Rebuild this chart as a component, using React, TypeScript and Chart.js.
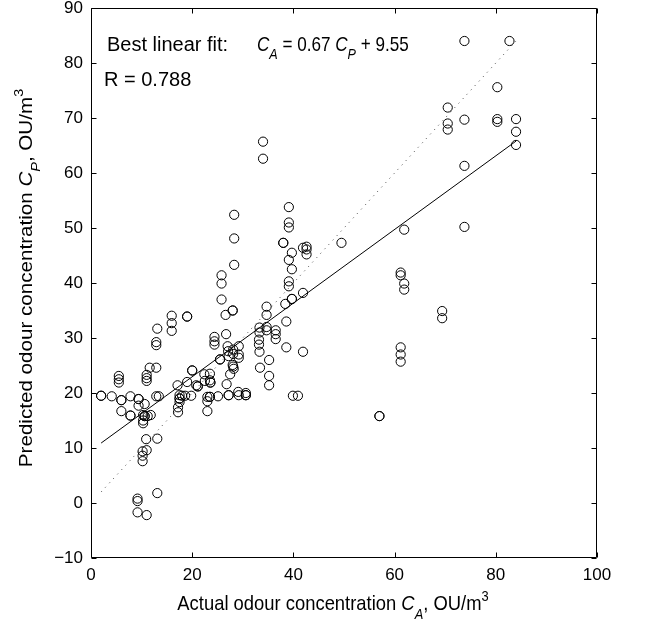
import React, { useEffect, useRef } from "react";
import { Chart, registerables } from "chart.js";

Chart.register(...registerables);

const FONT = '"Liberation Sans", Arial, Helvetica, sans-serif';

// Axis ticks
const xTickValues = [0, 20, 40, 60, 80, 100];
const yTickValues = [-10, 0, 10, 20, 30, 40, 50, 60, 70, 80, 90];

// Actual odour concentration C_A (x) and predicted C_P (y)
const actual = [
  73.8, 82.7, 80.3, 70.5, 70.5, 70.5, 73.8, 80.3, 80.3, 84.0, 84.0, 84.0, 73.8, 61.9, 73.8,
  49.5, 61.2, 61.2, 61.9, 61.9, 69.4, 69.4, 61.2, 61.2, 61.2, 57.0, 57.0,
  34.0, 34.0, 39.1, 39.1, 39.1, 28.3, 28.3, 28.3, 38.0, 38.0, 39.7, 42.6, 42.6, 42.6, 41.9,
  39.1, 39.7, 25.8, 25.8, 25.8, 39.1, 39.1, 39.7, 39.7, 41.9, 34.7, 34.7, 38.4, 26.6, 28.0,
  28.0, 15.95, 15.95, 15.95, 19.0, 19.0, 13.1, 12.9, 12.9, 24.4, 24.4, 24.4, 26.7, 33.3, 33.3,
  34.7, 34.7, 36.5, 36.5, 36.5, 33.2, 33.2, 33.3, 35.2, 33.4, 35.2, 35.2, 38.6, 38.6, 41.9,
  39.9, 40.9, 29.2, 29.2, 29.2, 28.1, 28.1, 27.0, 27.1, 27.2, 25.5, 25.5, 28.0, 28.1, 28.2,
  27.5, 26.8, 20.0, 20.0, 17.1, 19.0, 20.8, 21.1, 21.1, 22.4, 22.5, 23.5, 23.6, 23.6, 23.5,
  23.0, 23.0, 23.0, 23.5, 23.5, 25.1, 27.2, 27.2, 29.1, 29.2, 30.6, 30.6, 30.6, 17.5, 17.5,
  17.5, 17.5, 17.2, 17.2, 18.0, 18.6, 19.8, 2.0, 2.0, 4.1, 6.0, 6.0, 6.0, 7.8, 7.8, 7.8, 9.4,
  9.4, 9.4, 10.6, 10.3, 10.6, 10.6, 11.2, 11.8, 10.3, 10.3, 12.9, 13.4, 5.5, 5.5, 5.5, 11.0,
  11.0, 11.0, 11.6, 12.9, 10.9, 13.1, 10.2, 11.0, 10.2, 10.2, 9.2, 9.2, 9.2, 11.0, 13.1,
];
const predicted = [
  84.0, 84.0, 75.6, 71.9, 69.0, 67.9, 69.7, 69.8, 69.3, 69.8, 67.5, 65.1, 61.3, 49.7, 50.2,
  47.3, 41.9, 41.4, 39.9, 38.8, 34.9, 33.6, 28.3, 27.0, 25.7, 15.8, 15.8,
  65.7, 62.6, 53.8, 51.0, 50.1, 52.4, 48.1, 43.3, 47.3, 47.3, 45.5, 46.6, 46.1, 45.2, 46.4,
  44.2, 42.5, 41.4, 39.9, 37.0, 40.3, 39.4, 37.1, 37.1, 38.2, 35.7, 34.2, 36.2, 34.2, 35.0,
  35.0, 34.05, 32.7, 31.3, 33.9, 33.9, 31.7, 29.25, 28.7, 30.2, 29.4, 28.8, 30.7, 31.9, 31.0,
  32.0, 31.4, 31.4, 30.7, 29.8, 29.7, 28.8, 27.5, 26.0, 24.6, 23.1, 21.4, 33.0, 28.3, 27.5,
  19.5, 19.5, 28.5, 27.0, 26.4, 27.9, 27.1, 28.5, 27.6, 26.7, 26.1, 26.1, 25.1, 24.8, 24.4,
  23.4, 21.6, 24.1, 24.1, 21.4, 22.0, 21.4, 21.2, 21.2, 23.4, 22.2, 22.3, 21.9, 21.9, 23.5,
  19.3, 18.5, 16.7, 19.3, 19.3, 19.4, 19.6, 19.6, 20.2, 19.6, 20.0, 19.6, 19.6, 19.6, 19.0,
  19.0, 18.35, 17.4, 16.5, 19.5, 19.5, 19.5, 19.5, 19.5, 19.4, 18.7, 18.7, 16.7, 19.4, 15.9,
  15.9, 18.9, 18.9, 17.7, 18.0, 16.0, 15.8, 15.8, 15.8, 16.0, 15.0, 14.5, 19.4, 19.4, 23.1,
  22.5, 21.9, 23.3, 22.7, 22.2, 24.6, 24.6, 11.6, 11.7, 9.4, 9.6, 8.6, 7.6, 0.8, 0.35, -1.7,
  -2.2, 1.8,
];

// Best linear fit line C_A = 0.67 C_P + 9.55, drawn between its end points
const fitX = [2, 84];
const fitY = [10.9, 65.8];
// Line of perfect agreement
const identX = [2, 84];
const identY = [2, 84];

const PLOT_LEFT = 91;
const PLOT_TOP = 8;
const PLOT_RIGHT_PAD = 53;
const PLOT_BOTTOM_SPACE = 70;

type Seg = { t: string; it?: boolean; sub?: boolean; sup?: boolean };

function segFont(s: Seg, size: number) {
  const sz = s.sub || s.sup ? Math.round(size * 0.72) : size;
  return `${s.it ? "italic " : ""}${sz}px ${FONT}`;
}

function drawRich(
  ctx: CanvasRenderingContext2D,
  segs: Seg[],
  x: number,
  y: number,
  align: "left" | "center",
  size: number,
  sx: number,
  sy: number
) {
  const widths = segs.map((s) => {
    ctx.font = segFont(s, size);
    return ctx.measureText(s.t).width * sx;
  });
  const total = widths.reduce((a, b) => a + b, 0);
  let cx = align === "center" ? x - total / 2 : x;
  ctx.textAlign = "left";
  ctx.textBaseline = "alphabetic";
  segs.forEach((s, i) => {
    ctx.font = segFont(s, size);
    const dy = (s.sub ? size * 0.42 : s.sup ? -size * 0.45 : 0) * sy;
    ctx.save();
    ctx.translate(cx, y + dy);
    ctx.scale(sx, sy);
    ctx.fillText(s.t, 0, 0);
    ctx.restore();
    cx += widths[i];
  });
}

const framePlugin = {
  id: "matlabFrame",
  afterDatasetsDraw(chart: any) {
    const { ctx, chartArea, scales } = chart;
    const { left, right, top, bottom } = chartArea;
    ctx.save();
    ctx.strokeStyle = "#000";
    ctx.lineWidth = 1;
    const L = Math.round(left) + 0.5;
    const R = Math.round(right) - 0.5;
    const T = Math.round(top) + 0.5;
    const B = Math.round(bottom) - 0.5;
    ctx.beginPath();
    ctx.rect(L, T, R - L, B - T);
    ctx.stroke();
    const tl = 5;
    ctx.beginPath();
    xTickValues.forEach((v) => {
      const px = Math.round(scales.x.getPixelForValue(v)) + 0.5;
      ctx.moveTo(px, B);
      ctx.lineTo(px, B - tl);
      ctx.moveTo(px, T);
      ctx.lineTo(px, T + tl);
    });
    yTickValues.forEach((v) => {
      const py = Math.round(scales.y.getPixelForValue(v)) + 0.5;
      ctx.moveTo(L, py);
      ctx.lineTo(L + tl, py);
      ctx.moveTo(R, py);
      ctx.lineTo(R - tl, py);
    });
    ctx.stroke();

    ctx.fillStyle = "#000";
    // Annotations inside the plot
    drawRich(ctx, [{ t: "Best linear fit:" }], 107, 51, "left", 20, 1, 1);
    drawRich(
      ctx,
      [
        { t: "C", it: true },
        { t: "A", it: true, sub: true },
        { t: " = 0.67 " },
        { t: "C", it: true },
        { t: "P", it: true, sub: true },
        { t: " + 9.55" },
      ],
      257,
      51,
      "left",
      19,
      0.9,
      1.04
    );
    drawRich(ctx, [{ t: "R = 0.788" }], 104, 86, "left", 20, 1, 1);

    // X axis title
    drawRich(
      ctx,
      [
        { t: "Actual odour concentration " },
        { t: "C", it: true },
        { t: "A", it: true, sub: true },
        { t: ", OU/m" },
        { t: "3", sup: true },
      ],
      (left + right) / 2 - 11,
      610,
      "center",
      20,
      0.92,
      1.04
    );
    // Y axis title
    ctx.save();
    ctx.translate(32, (top + bottom) / 2 - 5);
    ctx.rotate(-Math.PI / 2);
    drawRich(
      ctx,
      [
        { t: "Predicted odour concentration " },
        { t: "C", it: true },
        { t: "P", it: true, sub: true },
        { t: ", OU/m" },
        { t: "3", sup: true },
      ],
      0,
      0,
      "center",
      20,
      1.03,
      0.95
    );
    ctx.restore();
    ctx.restore();
  },
};

export default function App() {
  const ref = useRef<HTMLCanvasElement | null>(null);
  useEffect(() => {
    if (!ref.current) return;
    const scatter = actual.map((x, i) => ({ x, y: predicted[i] }));
    const fit = fitX.map((x, i) => ({ x, y: fitY[i] }));
    const ident = identX.map((x, i) => ({ x, y: identY[i] }));
    const chart = new Chart(ref.current, {
      type: "scatter",
      data: {
        datasets: [
          {
            label: "Data",
            data: scatter,
            pointStyle: "circle",
            pointRadius: 4.6,
            pointBorderWidth: 1,
            pointBorderColor: "#000",
            pointBackgroundColor: "rgba(0,0,0,0)",
            showLine: false,
          },
          {
            label: "Fit",
            data: fit,
            showLine: true,
            borderColor: "#000",
            borderWidth: 1,
            pointRadius: 0,
          },
          {
            label: "Identity",
            data: ident,
            showLine: true,
            borderColor: "#444",
            borderWidth: 1,
            borderDash: [1, 5],
            pointRadius: 0,
          },
        ],
      },
      options: {
        responsive: false,
        animation: false,
        devicePixelRatio: 1,
        layout: {
          padding: { left: 0, top: PLOT_TOP, right: PLOT_RIGHT_PAD, bottom: 0 },
        },
        plugins: {
          legend: { display: false },
          tooltip: { enabled: false },
          title: { display: false },
        },
        scales: {
          x: {
            type: "linear",
            min: 0,
            max: 100,
            afterBuildTicks: (scale: any) => {
              scale.ticks = xTickValues.map((v) => ({ value: v }));
            },
            afterFit: (scale: any) => {
              scale.height = PLOT_BOTTOM_SPACE;
              scale.paddingLeft = 0;
              scale.paddingRight = 0;
            },
            grid: { display: false, drawTicks: false },
            border: { display: false },
            ticks: {
              color: "#000",
              font: { family: FONT, size: 17 },
              padding: 7,
              maxRotation: 0,
              autoSkip: false,
            },
          },
          y: {
            type: "linear",
            min: -10,
            max: 90,
            afterBuildTicks: (scale: any) => {
              scale.ticks = yTickValues.map((v) => ({ value: v }));
            },
            afterFit: (scale: any) => {
              scale.width = PLOT_LEFT;
              scale.paddingTop = 0;
              scale.paddingBottom = 0;
            },
            grid: { display: false, drawTicks: false },
            border: { display: false },
            ticks: {
              color: "#000",
              font: { family: FONT, size: 17 },
              padding: 8,
              autoSkip: false,
              callback: (v: any) => String(v).replace("-", "\u2212"),
            },
          },
        },
      },
      plugins: [framePlugin],
    });
    return () => chart.destroy();
  }, []);
  return (
    <div style={{ position: "absolute", left: 0, top: 0, width: 650, height: 628, background: "#fff" }}>
      <canvas ref={ref} width={650} height={628} style={{ display: "block" }} />
    </div>
  );
}
